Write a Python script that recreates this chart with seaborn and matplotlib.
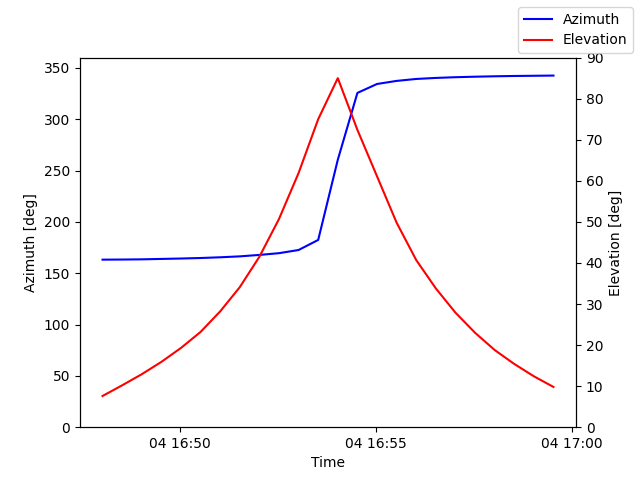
import matplotlib
matplotlib.use("Agg")
import matplotlib.pyplot as plt
import seaborn as sns
import pandas as pd

# pass samples, every 30 s
start_time = "2023-05-04 16:48:02"
n_points = 24
step = "30s"

azimuth = [163.2, 163.3, 163.5, 163.9, 164.3, 164.8, 165.5, 166.4, 167.8, 169.5,
           172.6, 182.4, 260.5, 325.6, 334.3, 337.3, 339.2, 340.2, 340.9, 341.4,
           341.8, 342.1, 342.3, 342.5]
elevation = [7.6, 10.2, 12.9, 15.9, 19.3, 23.2, 28.2, 34.1, 41.5, 50.7,
             61.9, 75.0, 85.0, 72.4, 61.1, 49.8, 40.7, 33.8, 27.9, 23.0,
             18.8, 15.4, 12.4, 9.8]

times = pd.date_range(start_time, periods=n_points, freq=step)
df = pd.DataFrame({"Time": times, "Azimuth": azimuth, "Elevation": elevation})

fig, ax = plt.subplots(figsize=(6.4, 4.8), dpi=100)
ax2 = ax.twinx()

sns.lineplot(data=df, x="Time", y="Azimuth", color="blue", label="Azimuth", ax=ax)
sns.lineplot(data=df, x="Time", y="Elevation", color="red", label="Elevation", ax=ax2)

for a in (ax, ax2):
    if a.get_legend() is not None:
        a.get_legend().remove()

ax.set_ylim(0, 360)
ax2.set_ylim(0, 90)
ax.set_xlabel("Time")
ax.set_ylabel("Azimuth [deg]")
ax2.set_ylabel("Elevation [deg]")

fig.legend()

plt.savefig("out.png")
